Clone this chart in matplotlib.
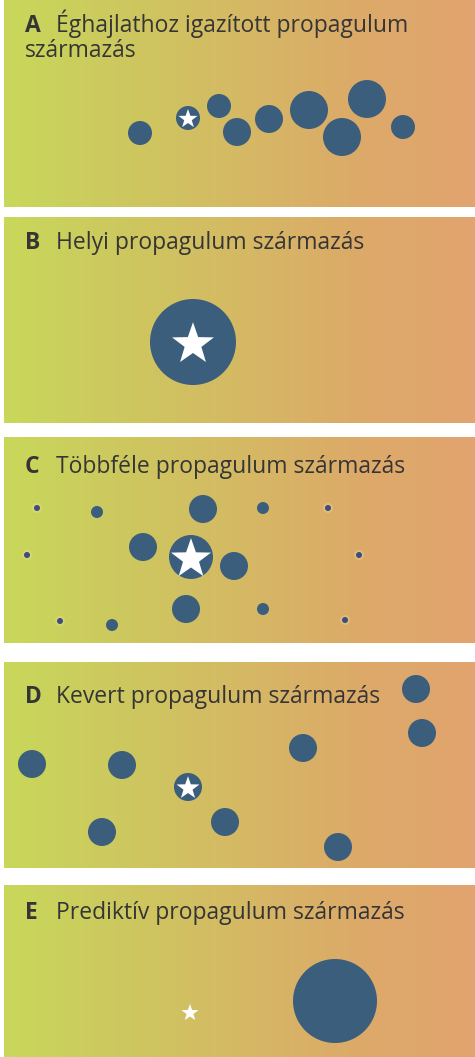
import numpy as np
import matplotlib
matplotlib.use("Agg")
import matplotlib.pyplot as plt
from matplotlib.patches import Circle, PathPatch
from matplotlib.path import Path
from matplotlib.transforms import Affine2D
from matplotlib.colors import LinearSegmentedColormap

plt.rcParams["font.family"] = ["Open Sans", "DejaVu Sans"]

W, H = 475, 1057
DOT = "#3b5e7d"
TEXT = "#353535"

# panels: top, bottom (pixel rows), letter, title lines
panel_top = [0, 217, 437, 662, 885]
panel_bottom = [207, 423, 643, 868, 1057]
panel_letters = ["A", "B", "C", "D", "E"]
panel_titles = [["Éghajlathoz igazított propagulum", "származás"],
                ["Helyi propagulum származás"],
                ["Többféle propagulum származás"],
                ["Kevert propagulum származás"],
                ["Prediktív propagulum származás"]]
title_baseline = [32, 249, 473, 703, 919]

# circles per panel: x, y, radius (pixels)
a_x = [140, 219, 237, 269, 309, 342, 367, 403]
a_y = [133, 106, 132, 119, 110, 137, 99, 127]
a_r = [12, 12, 14, 14, 19, 19, 19, 12]

b_x = [193]
b_y = [342]
b_r = [43]

c_x = [97, 112, 263, 263, 203, 143, 234, 186]
c_y = [512, 625, 508, 609, 509, 547, 566, 609]
c_r = [6, 6, 6, 6, 14, 14, 14, 14]
c_tiny_x = [37, 27, 60, 328, 359, 345]
c_tiny_y = [508, 555, 621, 508, 555, 620]

d_x = [32, 122, 102, 225, 303, 338, 416, 422]
d_y = [764, 765, 832, 822, 748, 847, 689, 733]
d_r = [14, 14, 14, 14, 14, 14, 14, 14]

e_x = [335]
e_y = [1001]
e_r = [42]

# star markers: x, y, circle radius behind (0 = none), star radius
star_x = [188, 193, 191, 188, 190]
star_y = [118, 342, 557, 787, 1012]
star_circle = [12, 0, 22, 14, 0]
star_size = [10, 22, 21, 12, 9]

grad_colors = ["#c8d85a", "#cdc85f", "#d5b964", "#dcaa69", "#e2a46f"]

fig = plt.figure(figsize=(W / 100, H / 100), dpi=100)
ax = fig.add_axes([0, 0, 1, 1])
ax.set_xlim(0, W)
ax.set_ylim(H, 0)
ax.axis("off")

cmap = LinearSegmentedColormap.from_list("bg", grad_colors)
grad = np.linspace(0, 1, 256).reshape(1, -1)
for top, bot in zip(panel_top, panel_bottom):
    ax.imshow(grad, cmap=cmap, aspect="auto", extent=[4, W, bot, top],
              interpolation="bicubic", zorder=0)

FS = 16.5
for letter, lines, base in zip(panel_letters, panel_titles, title_baseline):
    ax.text(25, base, letter, fontsize=FS, fontweight="bold", color=TEXT,
            va="baseline", ha="left", zorder=3)
    ax.text(56, base, lines[0], fontsize=FS, color=TEXT,
            va="baseline", ha="left", zorder=3)
    # wrapped second line starts at the left margin
    for i, line in enumerate(lines[1:], start=1):
        ax.text(25, base + i * 25, line, fontsize=FS, color=TEXT,
                va="baseline", ha="left", zorder=3)


def draw_circles(xs, ys, rs, color=DOT):
    for x, y, r in zip(xs, ys, rs):
        ax.add_patch(Circle((x, y), r, facecolor=color, edgecolor="none", zorder=2))


draw_circles(a_x, a_y, a_r)
draw_circles(b_x, b_y, b_r)
draw_circles(c_x, c_y, c_r)
for x, y in zip(c_tiny_x, c_tiny_y):
    ax.add_patch(Circle((x, y), 5, facecolor="#e4e0a0", alpha=0.35, edgecolor="none", zorder=1))
draw_circles(c_tiny_x, c_tiny_y, [3] * len(c_tiny_x), color="#404c7c")
draw_circles(d_x, d_y, d_r)
draw_circles(e_x, e_y, e_r)

star = Path.unit_regular_star(5, innerCircle=0.4)
for x, y, cr, sr in zip(star_x, star_y, star_circle, star_size):
    if cr:
        ax.add_patch(Circle((x, y), cr, facecolor=DOT, edgecolor="none", zorder=2))
    # flip vertically because y axis is inverted
    tr = Affine2D().scale(sr, -sr).translate(x, y + sr * 0.1)
    ax.add_patch(PathPatch(tr.transform_path(star), facecolor="white",
                           edgecolor="none", zorder=3))

fig.savefig("out.png", dpi=100)
